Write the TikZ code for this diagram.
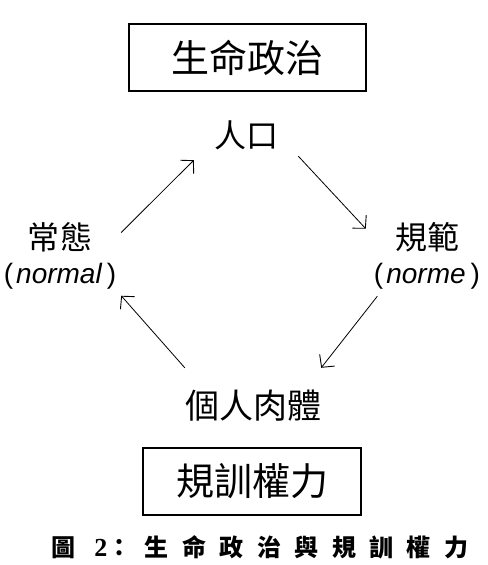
\documentclass[tikz,border=0pt]{standalone}
\usepackage{fontspec}
\usepackage{tikz}
\usetikzlibrary{arrows.meta, positioning, calc}
\newfontfamily\cjk{Noto Sans CJK TC}
\newfontfamily\latinsf{Liberation Sans}
\newfontfamily\capnum{Liberation Serif Bold}
\newcommand{\fsz}[1]{\fontsize{#1bp}{1.15\dimexpr#1bp\relax}\selectfont}
\newcommand{\gloss}[1]{{\latinsf\fsz{28}(\hspace{3bp}\itshape #1\hspace{5bp}\upshape)}}

\begin{document}
\begin{tikzpicture}[
    x=1bp, y=1bp,
    titlebox/.style={rectangle, draw, line width=1.3bp, inner sep=0pt, minimum height=67bp, font=\cjk\fsz{38}},
    term/.style={inner sep=0pt, align=center, font=\cjk\fsz{32}},
    side/.style={term, minimum width=122bp, minimum height=80bp},
    line/.style={draw, line width=0.8bp, -{Straight Barb[length=9bp, width=19bp, line width=0.9bp]}}
]
\useasboundingbox (0,0) rectangle (488,565);

% Boxes
\node [titlebox, minimum width=237bp] (bio) at (247.5,507.5) {生命政治};
\node [titlebox, minimum width=218bp] (disc) at (252,83.5) {規訓權力};

% Cycle
\node [term, minimum width=104bp, minimum height=50bp] (pop) at (246,430) {人口};
\node [side] (norm) at (60,309) {常態\\[-3bp]\gloss{normal}};
\node [side] (norme) at (427,309) {規範\\[-3bp]\gloss{norme}};
\node [term, minimum width=102bp, minimum height=76bp, font=\cjk\fsz{34}] (body) at (253,159) {個人肉體};

% Caption
\node [font=\cjk\fsz{24}\bfseries] (cap) at (260,18) {\addfontfeatures{LetterSpace=56}圖 {\capnum\fsz{26}2}：生命政治與規訓權力};

% Connections
\draw [line] (norm.21) -- (pop.south west);
\draw [line] (pop.-22) -- (norme.156);
\draw [line] (norme.219) -- (body.north east);
\draw [line] (body.north west) -- (norm.-33);

\end{tikzpicture}
\end{document}
